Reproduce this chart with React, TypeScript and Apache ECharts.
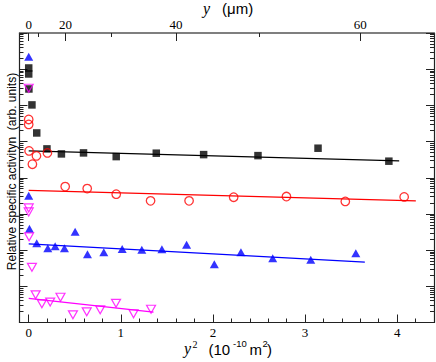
import React, { useEffect, useRef } from "react";
import * as echarts from "echarts";

// ---- data (x = y^2 in 10^-10 m^2, y = relative specific activity, log scale) ----
const blackX = [0, 0, 0.002, 0.035, 0.087, 0.198, 0.355, 0.595, 0.95, 1.385, 1.899, 2.489, 3.141, 3.91];
const blackY = [1.08e7, 7.38e6, 2.84e6, 1.03e6, 1.73e5, 6.27e4, 4.56e4, 4.86e4, 3.84e4, 4.77e4, 4.36e4, 4.09e4, 6.55e4, 2.87e4];
const blackFitX = [0, 4.022];
const blackFitY = [5.52e4, 2.92e4];

const redX = [0, 0, 0.004, 0.084, 0.04, 0.203, 0.396, 0.635, 0.95, 1.323, 1.741, 2.225, 2.798, 3.437, 4.076];
const redY = [4.09e5, 2.98e5, 5.52e4, 4.02e4, 2.37e4, 4.86e4, 5.7e3, 5.02e3, 3.52e3, 2.3e3, 2.3e3, 2.9e3, 3.02e3, 2.22e3, 2.96e3];
const redFitX = [0, 4.203];
const redFitY = [4.48e3, 2.3e3];

const blueX = [0, 0, 0.008, 0.087, 0.207, 0.287, 0.388, 0.504, 0.638, 0.815, 1.015, 1.228, 1.446, 1.714, 2.015, 2.304, 2.649, 3.062, 3.551];
const blueY = [2.22e7, 3.16e3, 387, 156, 113, 127, 113, 320, 76.4, 87.9, 108, 102, 106, 140, 41, 87.9, 60, 53.9, 82.6];
const blueFitX = [0, 3.649];
const blueFitY = [149, 46.6];

const magX = [0, 0, 0, 0.004, 0.035, 0.075, 0.143, 0.233, 0.345, 0.48, 0.63, 0.776, 0.948, 1.138, 1.328];
const magY = [2.97e6, 1.47e3, 1.14e3, 233, 33.5, 5.82, 3.28, 3.66, 4.97, 1.63, 1.97, 2.24, 3.39, 1.74, 2.32];
const magFitX = [0, 1.355];
const magFitY = [4.66, 1.94];

// ---- axes ----
const X_MIN = -0.1;
const X_MAX = 4.4;
const bottomMajor = [0, 1, 2, 3, 4];
const bottomMinor = [0.2, 0.4, 0.6, 0.8, 1.2, 1.4, 1.6, 1.8, 2.2, 2.4, 2.6, 2.8, 3.2, 3.4, 3.6, 3.8, 4.2];
const topMajorMicrons = [0, 20, 40, 60];
const topMinorMicrons = [10, 30, 50];
const Y_MIN = 1;
const Y_MAX = 1e8;
const DECADES = 8;

const zip = (xs: number[], ys: number[]) => xs.map((x, i) => [x, ys[i]]);
const toY2 = (um: number) => (um * um) / 1000;

const majorDecades: number[] = [];
const minorDecades: number[] = [];
for (let n = 0; n <= DECADES; n++) {
  majorDecades.push(n);
  if (n < DECADES) for (let k = 2; k <= 9; k++) minorDecades.push(n + Math.log10(k));
}

const AX = "#222";
const SERIF = '"Liberation Serif", "DejaVu Serif", serif';
const SANS = '"Liberation Sans", Arial, sans-serif';

function deco(extra: any) {
  const { axisLine, ...rest } = extra;
  return {
    type: "value",
    gridIndex: 0,
    offset: 0,
    splitLine: { show: false },
    axisLine: { show: false, onZero: false, ...(axisLine || {}) },
    ...rest,
  };
}

export default function App() {
  const ref = useRef<HTMLDivElement>(null);
  useEffect(() => {
    document.body.style.margin = "0";
    const chart = echarts.init(ref.current!, null, { renderer: "svg" });
    const tickStyle = (len: number) => ({ show: true, inside: true, length: len, lineStyle: { color: AX, width: 1 } });
    const option: any = {
      animation: false,
      backgroundColor: "#fff",
      grid: { left: 19.5, right: 2, top: 33, bottom: 39.5, outerBoundsMode: "none", containLabel: false },
      xAxis: [
        deco({
          position: "bottom", min: X_MIN, max: X_MAX,
          axisLine: { show: true, lineStyle: { color: AX, width: 1.2 } },
          axisTick: { show: false }, axisLabel: { show: false },
        }),
        deco({
          position: "bottom", min: X_MIN, max: X_MAX,
          axisTick: { ...tickStyle(8), customValues: bottomMajor },
          axisLabel: { show: true, customValues: bottomMajor, margin: 3, fontFamily: SERIF, fontSize: 13, color: "#000" },
        }),
        deco({
          position: "bottom", min: X_MIN, max: X_MAX,
          axisTick: { ...tickStyle(4), customValues: bottomMinor },
          axisLabel: { show: false },
        }),
        deco({
          position: "top", min: X_MIN, max: X_MAX,
          axisLine: { show: true, lineStyle: { color: "#555", width: 1.5 } },
          axisTick: { ...tickStyle(8), customValues: topMajorMicrons.map(toY2) },
          axisLabel: {
            show: true, customValues: topMajorMicrons.map(toY2), margin: 2, fontFamily: SERIF, fontSize: 13, color: "#000",
            formatter: (v: number) => String(Math.round(Math.sqrt(v * 1000))),
          },
        }),
        deco({
          position: "top", min: X_MIN, max: X_MAX,
          axisTick: { ...tickStyle(4), customValues: topMinorMicrons.map(toY2) },
          axisLabel: { show: false },
        }),
      ],
      yAxis: [
        {
          type: "log", logBase: 10, min: Y_MIN, max: Y_MAX, position: "left", offset: 0, gridIndex: 0,
          axisLine: { show: true, onZero: false, lineStyle: { color: AX, width: 1.2 } },
          axisTick: { show: false }, axisLabel: { show: false }, splitLine: { show: false },
        },
        deco({ position: "left", min: 0, max: DECADES, axisTick: { ...tickStyle(8), customValues: majorDecades }, axisLabel: { show: false } }),
        deco({ position: "left", min: 0, max: DECADES, axisTick: { ...tickStyle(4), customValues: minorDecades }, axisLabel: { show: false } }),
        deco({
          position: "right", min: 0, max: DECADES,
          axisLine: { show: true, lineStyle: { color: AX, width: 1.2 } },
          axisTick: { ...tickStyle(8), customValues: majorDecades }, axisLabel: { show: false },
        }),
        deco({ position: "right", min: 0, max: DECADES, axisTick: { ...tickStyle(4), customValues: minorDecades }, axisLabel: { show: false } }),
      ],
      series: [
        { type: "line", data: zip(blackFitX, blackFitY), showSymbol: false, lineStyle: { color: "#000", width: 1.3 }, z: 2 },
        { type: "line", data: zip(redFitX, redFitY), showSymbol: false, lineStyle: { color: "#ff0000", width: 1.3 }, z: 2 },
        { type: "line", data: zip(blueFitX, blueFitY), showSymbol: false, lineStyle: { color: "#0000ff", width: 1.3 }, z: 2 },
        { type: "line", data: zip(magFitX, magFitY), showSymbol: false, lineStyle: { color: "#ff00ff", width: 1.3 }, z: 2 },
        { type: "scatter", data: zip(blackX, blackY), symbol: "rect", symbolSize: 7.5, itemStyle: { color: "#000" }, z: 3 },
        {
          type: "scatter", data: zip(redX, redY), symbol: "circle", symbolSize: 8.5,
          itemStyle: { color: "rgba(0,0,0,0)", borderColor: "#ff0000", borderWidth: 1.3 }, z: 3,
        },
        { type: "scatter", data: zip(blueX, blueY), symbol: "triangle", symbolSize: [9, 8], itemStyle: { color: "#0000ff" }, z: 3 },
        {
          type: "scatter", data: zip(magX, magY), symbol: "triangle", symbolRotate: 180, symbolSize: [9, 8],
          itemStyle: { color: "rgba(0,0,0,0)", borderColor: "#ff00ff", borderWidth: 1.2 }, z: 4,
        },
      ],
      graphic: [
        {
          type: "text", x: 11.7, y: 171.5, rotation: Math.PI / 2,
          style: { text: "Relative specific activityn  (arb. units)", fontFamily: SANS, fontSize: 12, fill: "#000", align: "center", verticalAlign: "middle" },
        },
        { type: "text", x: 203, y: 8.5, style: { text: "y", fontFamily: SERIF, fontStyle: "italic", fontSize: 16, fill: "#000", align: "left", verticalAlign: "middle" } },
        { type: "text", x: 222, y: 8.5, style: { text: "(μm)", fontFamily: SANS, fontSize: 15, fill: "#000", align: "left", verticalAlign: "middle" } },
        { type: "text", x: 184, y: 348.6, style: { text: "y", fontFamily: SERIF, fontStyle: "italic", fontSize: 16, fill: "#000", align: "left", verticalAlign: "middle" } },
        { type: "text", x: 192.5, y: 344.6, style: { text: "2", fontFamily: SERIF, fontSize: 10, fill: "#000", align: "left", verticalAlign: "middle" } },
        { type: "text", x: 208.5, y: 349, style: { text: "(10", fontFamily: SANS, fontSize: 15, fill: "#000", align: "left", verticalAlign: "middle" } },
        { type: "text", x: 233, y: 343.8, style: { text: "-10", fontFamily: SANS, fontSize: 9.5, fill: "#000", align: "left", verticalAlign: "middle" } },
        { type: "text", x: 249.5, y: 349, style: { text: "m", fontFamily: SANS, fontSize: 15, fill: "#000", align: "left", verticalAlign: "middle" } },
        { type: "text", x: 262.5, y: 343.8, style: { text: "2", fontFamily: SANS, fontSize: 9.5, fill: "#000", align: "left", verticalAlign: "middle" } },
        { type: "text", x: 267, y: 349, style: { text: ")", fontFamily: SANS, fontSize: 15, fill: "#000", align: "left", verticalAlign: "middle" } },
      ],
    };
    chart.setOption(option);
    return () => chart.dispose();
  }, []);
  return <div ref={ref} style={{ position: "fixed", left: 0, top: 0, width: 436, height: 362 }} />;
}
